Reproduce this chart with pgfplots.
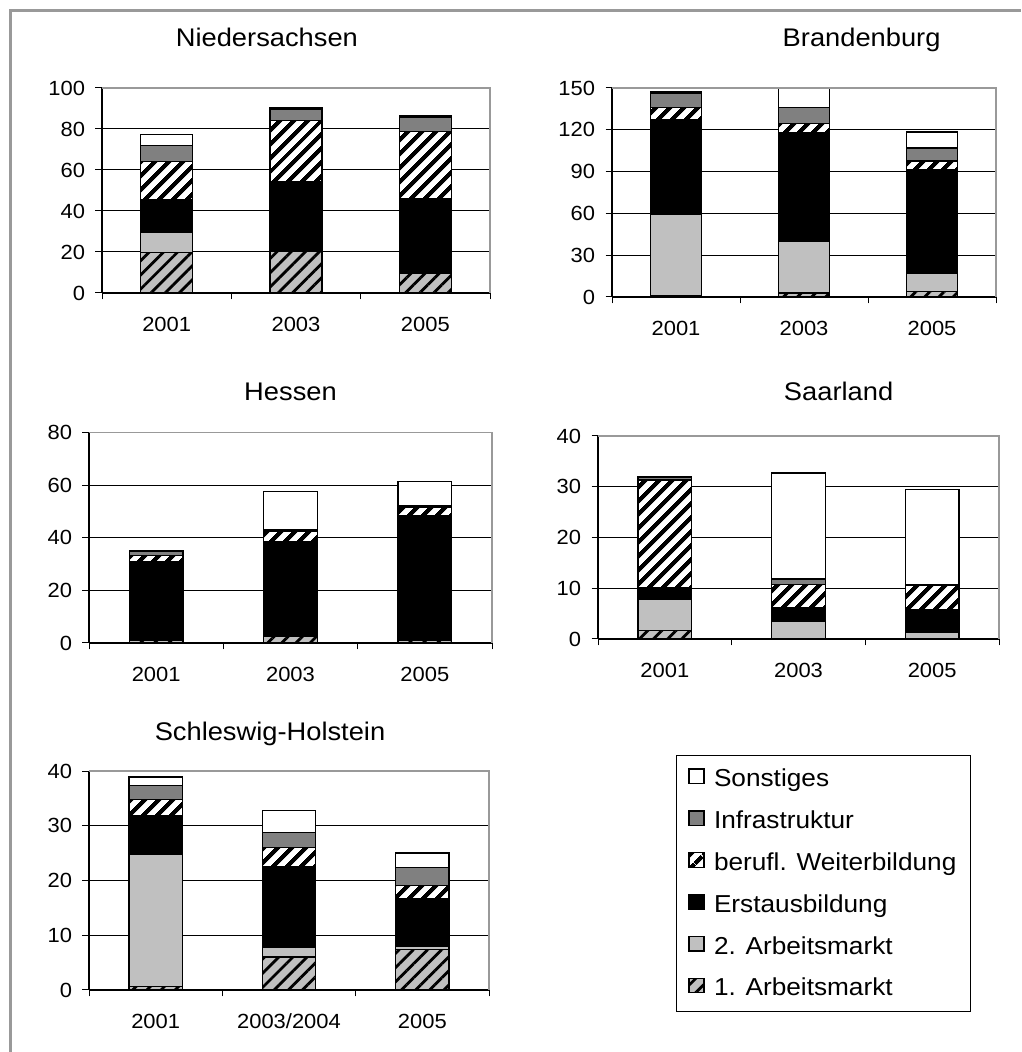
\documentclass[border=0pt]{standalone}
\usepackage{fontspec}
\setmainfont[FakeStretch=1.07]{Liberation Sans}
\usepackage{pgfplots}
\pgfplotsset{compat=1.18}
\usepackage{pgfplotstable}
\usetikzlibrary{patterns.meta}

\definecolor{hellgrau}{HTML}{C0C0C0}
\definecolor{mittelgrau}{HTML}{808080}
\definecolor{rahmen}{HTML}{999999}

% x: 0 = 2001, 1 = 2003 (2003/2004), 2 = 2005
\pgfplotstableread{
x a1 a2 er we in so
0 19.7 9.7 16.0 18.7 7.7 5.4
1 20.5 0.0 33.8 29.7 5.7 0.8
2 9.5 0.0 36.7 32.6 6.8 0.8
}\tabNds
\pgfplotstableread{
x a1 a2 er we in so
0 1.0 58.3 68.0 8.6 10.5 0.8
1 2.9 37.3 77.5 6.7 11.5 13.6
2 4.1 12.6 74.7 6.2 9.3 11.5
}\tabBra
\pgfplotstableread{
x a1 a2 er we in so
0 1.0 0.5 29.5 2.2 1.5 0.3
1 2.5 0.0 35.9 4.0 0.6 14.6
2 0.9 0.0 47.5 3.2 0.5 9.3
}\tabHes
\pgfplotstableread{
x a1 a2 er we in so
0 1.7 6.2 2.3 21.1 0.6 0.0
1 0.0 3.4 2.8 4.6 1.0 20.9
2 0.0 1.4 4.4 4.7 0.2 18.7
}\tabSaa
\pgfplotstableread{
x a1 a2 er we in so
0 0.7 24.1 7.1 2.9 2.6 1.5
1 6.0 1.7 14.8 3.5 2.8 4.0
2 7.4 0.6 8.6 2.5 3.3 2.6
}\tabSH

\pgfplotsset{
  seg/.style={draw=black, line width=1.3pt},
  arb1/.style={seg, fill=hellgrau,
    postaction={pattern={Lines[angle=45,distance=10pt,line width=2.8pt]}, pattern color=black}},
  arb2/.style={seg, fill=hellgrau},
  erst/.style={seg, fill=black},
  weiter/.style={seg, fill=white,
    postaction={pattern={Lines[angle=45,distance=10.5pt,line width=4.5pt]}, pattern color=black}},
  infra/.style={seg, fill=mittelgrau},
  sonst/.style={seg, fill=white},
  land/.style={
    scale only axis,
    anchor=south west,
    ybar stacked,
    bar width=0.4,
    xmin=-0.5, xmax=2.5,
    ymin=0,
    xtick={-0.5,0.5,1.5,2.5},
    xticklabels={},
    extra x ticks={0,1,2},
    extra x tick labels={2001,2003,2005},
    extra x tick style={major tick length=0pt},
    tick align=outside,
    major tick length=6.5pt,
    axis lines*=left,
    axis line style={-, line width=1.2pt},
    tick style={black, line width=1pt},
    ymajorgrids,
    grid style={black, line width=1pt},
    /pgf/number format/assume math mode=true,
    tick label style={font=\fontsize{20.5}{24}\selectfont},
    xticklabel style={yshift=-20pt, text height=15pt, text depth=4pt},
    yticklabel style={xshift=-7pt},
    title style={font=\fontsize{25.5}{30}\selectfont, anchor=base},
    legend image code/.code={\draw[##1] (0pt,-5pt) rectangle (15pt,9.5pt);},
    after end axis/.code={
      \draw[rahmen, line width=1.5pt] (rel axis cs:0,1) -- (rel axis cs:1,1) -- (rel axis cs:1,0);
    },
  },
}

\newcommand\saeulen[1]{%
  \addplot[arb1] table[x=x,y=a1]{#1};
  \addplot[arb2] table[x=x,y=a2]{#1};
  \addplot[erst] table[x=x,y=er]{#1};
  \addplot[weiter] table[x=x,y=we]{#1};
  \addplot[infra] table[x=x,y=in]{#1};
  \addplot[sonst] table[x=x,y=so]{#1};
}

\begin{document}
\begin{tikzpicture}[x=1pt,y=1pt]
\useasboundingbox (0,0) rectangle (1021,1052);
\fill[white] (0,0) rectangle (1021,1052);
\draw[rahmen, line width=3pt] (10.5,0) -- (10.5,1041) -- (1021,1041);

\begin{axis}[land, at={(102pt,759pt)}, width=388pt, height=205pt,
  ymax=100, ytick={0,20,...,100},
  title=Niedersachsen, title style={at={(axis description cs:0.425,1)}, yshift=35pt}]
  \saeulen{\tabNds}
\end{axis}

\begin{axis}[land, at={(612pt,755pt)}, width=384pt, height=209pt,
  ymax=150, ytick={0,30,...,150},
  title=Brandenburg, title style={at={(axis description cs:0.65,1)}, yshift=35pt}]
  \saeulen{\tabBra}
\end{axis}

\begin{axis}[land, at={(89pt,409pt)}, width=403pt, height=210.5pt,
  ymax=80, ytick={0,20,...,80},
  title=Hessen, title style={at={(axis description cs:0.5,1)}, yshift=26pt}]
  \saeulen{\tabHes}
\end{axis}

\begin{axis}[land, at={(598pt,413pt)}, width=401pt, height=203pt,
  ymax=40, ytick={0,10,...,40},
  title=Saarland, title style={at={(axis description cs:0.6,1)}, yshift=29pt}]
  \saeulen{\tabSaa}
\end{axis}

\begin{axis}[land, at={(89pt,62pt)}, width=400pt, height=219pt,
  ymax=40, ytick={0,10,...,40},
  extra x tick labels={2001,2003/2004,2005},
  title=Schleswig-Holstein, title style={at={(axis description cs:0.4525,1)}, yshift=25pt},
  reverse legend,
  legend style={at={(axis description cs:1.4675,1.073)}, anchor=north west,
    draw=black, line width=0.8pt, font=\fontsize{24.5}{29}\selectfont,
    row sep=18.6pt, column sep=7.3pt, inner xsep=12pt, inner ysep=11.5pt,
    cells={anchor=west},
    nodes={inner sep=2pt}}]
  \saeulen{\tabSH}
  \legend{1. Arbeitsmarkt, 2. Arbeitsmarkt, Erstausbildung, berufl. Weiterbildung, Infrastruktur, Sonstiges}
\end{axis}
\end{tikzpicture}
\end{document}
